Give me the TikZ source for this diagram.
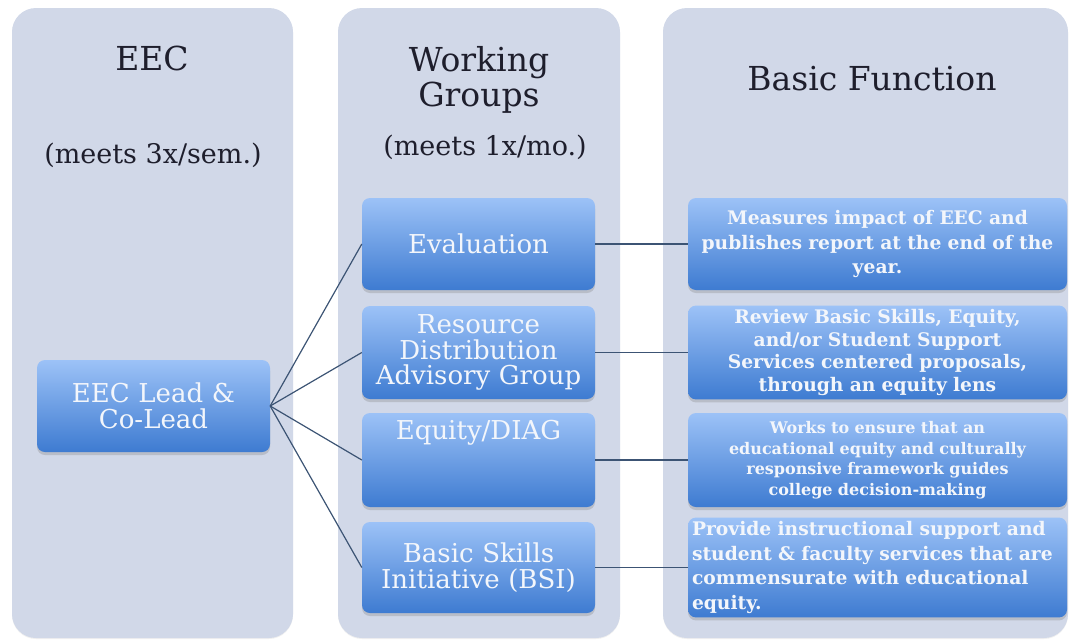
\documentclass[tikz,border=0pt]{standalone}
\usepackage{fontspec}
\setmainfont{DejaVu Serif}
\usepackage{xcolor}
\usepackage{tikz}
\usetikzlibrary{shadows,positioning}
\definecolor{colbg}{HTML}{D1D8E8}
\definecolor{boxtop}{HTML}{9CC2F7}
\definecolor{boxbot}{HTML}{3E7BD1}
\definecolor{link}{HTML}{3C5474}
\definecolor{head}{HTML}{1E1E2C}
\definecolor{boxtext}{HTML}{F3F6FB}
\tikzset{
  column/.style={fill=colbg, rounded corners=24pt,
    drop shadow={shadow xshift=0pt, shadow yshift=-1pt, opacity=0.12}},
  blue/.style={rounded corners=8pt, top color=boxtop, bottom color=boxbot,
    text=boxtext, align=center,
    drop shadow={shadow xshift=0pt, shadow yshift=-3pt, opacity=0.3}},
  wgbox/.style={blue, minimum width=233pt, text width=227pt, inner sep=3pt,
    font=\fontsize{26}{25.5}\selectfont},
  fnbox/.style={blue, minimum width=379pt, text width=371pt, inner sep=4pt,
    font=\fontsize{18.7}{24.5}\selectfont\bfseries},
  head/.style={text=head, align=center, font=\fontsize{33}{35}\selectfont},
  meets/.style={text=head, font=\fontsize{27}{28}\selectfont},
  link/.style={draw=link, line width=1.2pt},
}

\begin{document}
\begin{tikzpicture}[x=1pt, y=-1pt]
  \useasboundingbox (0,0) rectangle (1070,640);
  % three columns
  \path[column] (12,8) rectangle (293,638);
  \path[column] (338,8) rectangle (620,638);
  \path[column] (663,8) rectangle (1068,638);
  % headings
  \node[head] (eechead) at (152,58) {EEC};
  \node[meets] (eecmeets) at (153,155) {(meets 3x/sem.)};
  \node[head] (wghead) at (479,80) {Working\\Groups};
  \node[meets] (wgmeets) at (485,147) {(meets 1x/mo.)};
  \node[head] (fnhead) at (872,79) {Basic Function};
  % lead
  \node[wgbox, minimum height=92pt] (lead) at (153.5,406) {EEC Lead \&\\Co-Lead};
  % working groups
  \node[wgbox, minimum height=92pt] (eval) at (478.5,244) {Evaluation};
  \node[wgbox, minimum height=93pt] (rdag) at (478.5,352.5) {Resource\\Distribution\\Advisory Group};
  \node[wgbox, minimum height=94pt] (equity) at (478.5,460) {};
  \node[text=boxtext, font=\fontsize{26}{25.5}\selectfont, anchor=center]
    (equitylbl) at ([yshift=-20pt]equity.north) {Equity/DIAG};
  \node[wgbox, minimum height=91pt] (bsi) at (478.5,567.5) {Basic Skills\\Initiative (BSI)};
  % basic functions
  \node[fnbox, minimum height=92pt] (evalfn) at (877.5,244)
    {Measures impact of EEC and\\publishes report at the end of the\\year.};
  \node[fnbox, minimum height=91pt, font=\fontsize{18.7}{22.5}\selectfont\bfseries] (rdagfn) at (877.5,352.5)
    {Review Basic Skills, Equity,\\and/or Student Support\\Services centered proposals,\\through an equity lens};
  \node[fnbox, minimum height=94pt, font=\fontsize{16}{20.5}\selectfont\bfseries] (equityfn) at (877.5,460)
    {Works to ensure that an\\educational equity and culturally\\responsive framework guides\\college decision-making};
  \node[fnbox, minimum height=93pt, align=left] (bsifn) at (877.5,567.5)
    {Provide instructional support and\\student \& faculty services that are\\commensurate with educational\\equity.};
  % connectors
  \foreach \g in {eval,rdag,equity,bsi}{
    \draw[link] (lead.east) -- (\g.west);
    \draw[link] (\g.east) -- (\g fn.west);
  }
\end{tikzpicture}
\end{document}
